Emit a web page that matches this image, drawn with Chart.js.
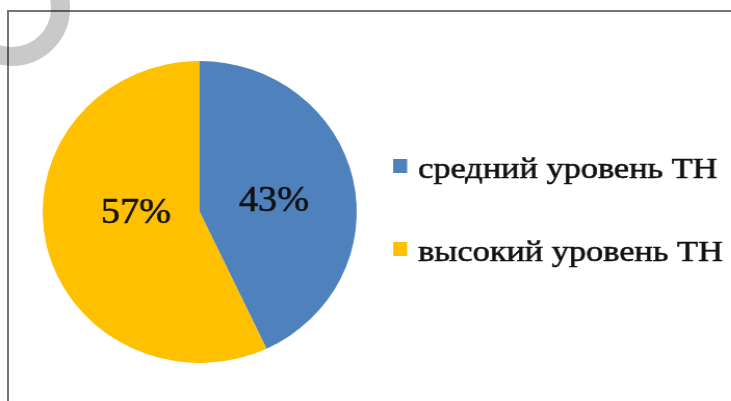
<!DOCTYPE html>
<html>
<head>
<meta charset="utf-8">
<script src="https://cdn.jsdelivr.net/npm/chart.js@4"></script>
<style>
  html, body { margin: 0; padding: 0; background: #fff; overflow: hidden; }
  #wrap { position: relative; width: 731px; height: 401px; }
  #frame { position: absolute; left: 7px; top: 10px; width: 740px; height: 420px;
           border-left: 2px solid #747474; border-top: 2px solid #747474; }
  #ring { position: absolute; left: -46px; top: -50px; width: 116px; height: 116px;
          box-sizing: border-box; border: 19px solid rgba(0,0,0,0.21); border-radius: 50%; }
  /* the original picture is a little stretched sideways */
  canvas { position: absolute; left: 0; top: 0; transform: scaleX(1.04); transform-origin: 0 0; }
</style>
</head>
<body>
<div id="wrap">
  <div id="frame"></div>
  <canvas id="pieChart" width="703" height="401" style="width:703px;height:401px"></canvas>
  <div id="ring"></div>
</div>
<script>
// Data
const labels = ["средний уровень ТН", "высокий уровень ТН"];
const values = [43, 57];
const colors = ["#4F81BD", "#FFC000"];

// percent labels inside slices
const sliceLabels = {
  id: "sliceLabels",
  afterDatasetsDraw(chart) {
    const ctx = chart.ctx;
    const meta = chart.getDatasetMeta(0);
    const total = values.reduce((a, b) => a + b, 0);
    ctx.save();
    ctx.font = "35px 'Liberation Serif', 'Times New Roman', serif";
    ctx.fillStyle = "#111";
    ctx.strokeStyle = "#111";
    ctx.lineWidth = 0.6;
    ctx.textAlign = "center";
    ctx.textBaseline = "middle";
    meta.data.forEach((arc, i) => {
      const p = arc.getProps(["x", "y", "startAngle", "endAngle", "outerRadius"], true);
      const mid = (p.startAngle + p.endAngle) / 2;
      const r = p.outerRadius * 0.45;
      const pct = Math.round(values[i] / total * 100) + "%";
      ctx.save();
      ctx.translate(p.x + Math.cos(mid) * r + 5, p.y + Math.sin(mid) * r * 0.4 - 4);
      ctx.scale(1.05, 1);
      ctx.fillText(pct, 0, 0);
      ctx.strokeText(pct, 0, 0);
      ctx.restore();
    });
    ctx.restore();
  }
};

// legend on the right, Excel style
const sideLegend = {
  id: "sideLegend",
  afterDraw(chart) {
    const ctx = chart.ctx;
    ctx.save();
    ctx.font = "30px 'Liberation Serif', 'Times New Roman', serif";
    ctx.textBaseline = "alphabetic";
    ctx.lineWidth = 0.6;
    labels.forEach((lab, i) => {
      const cy = 166 + i * 83;
      ctx.fillStyle = colors[i];
      ctx.fillRect(378, cy - 7, 13.5, 14);
      ctx.save();
      ctx.translate(402, cy + 12);
      ctx.scale(1.1, 1);
      ctx.fillStyle = "#111";
      ctx.strokeStyle = "#111";
      ctx.fillText(lab, 0, 0);
      ctx.strokeText(lab, 0, 0);
      ctx.restore();
    });
    ctx.restore();
  }
};

const ctx = document.getElementById("pieChart").getContext("2d");
new Chart(ctx, {
  type: "pie",
  data: {
    labels: labels,
    datasets: [{
      data: values,
      backgroundColor: colors,
      borderWidth: 0
    }]
  },
  options: {
    responsive: false,
    animation: false,
    layout: { padding: { left: 41, top: 61, bottom: 38, right: 360 } },
    plugins: {
      legend: { display: false },
      tooltip: { enabled: false }
    }
  },
  plugins: [sliceLabels, sideLegend]
});
</script>
</body>
</html>
